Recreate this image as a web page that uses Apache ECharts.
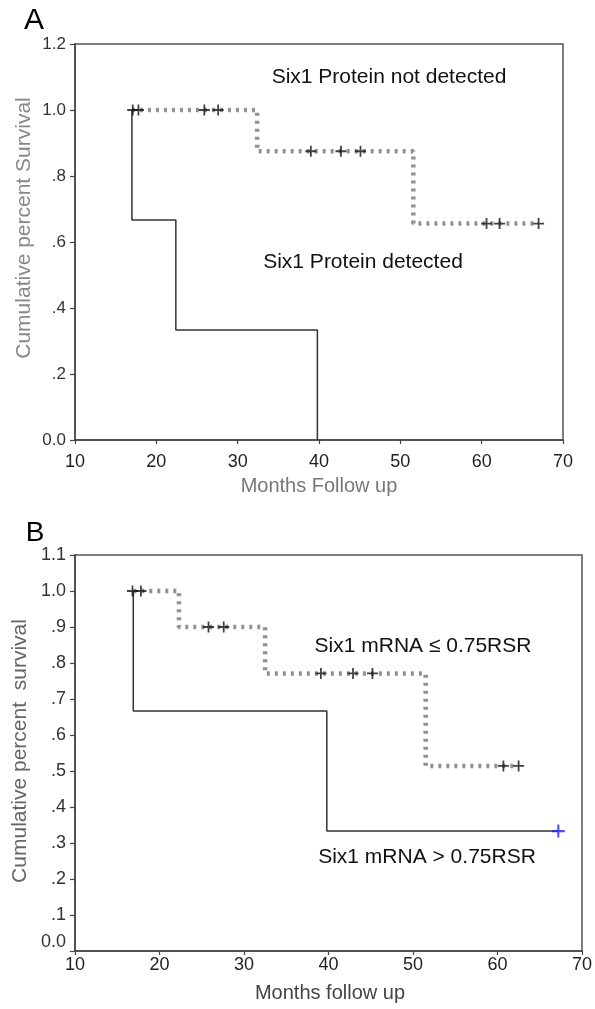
<!DOCTYPE html>
<html>
<head>
<meta charset="utf-8">
<script src="https://cdn.jsdelivr.net/npm/echarts@6/dist/echarts.min.js"></script>
<style>
html,body{margin:0;padding:0;background:#fff;}
#chart{width:595px;height:1009px;}
</style>
</head>
<body>
<div id="chart"></div>
<script>
// ---------- Panel A data ----------
const monthTicks = [10, 20, 30, 40, 50, 60, 70];
const yTickLabelsA = ['0.0', '.2', '.4', '.6', '.8', '1.0', '1.2'];
// Six1 protein not detected (dotted): step curve
const protNegTimes = [17.0, 32.4, 51.6, 67.0];
const protNegSurv  = [1.0, 0.875, 0.656, 0.656];
const protNegCensorTimes = [17.1, 17.8, 25.9, 27.6, 39.0, 42.7, 45.1, 60.6, 62.2, 67.0];
const protNegCensorSurv  = [1.0, 1.0, 1.0, 1.0, 0.875, 0.875, 0.875, 0.656, 0.656, 0.656];
// Six1 protein detected (solid)
const protPosTimes = [17.0, 17.0, 22.4, 39.8];
const protPosSurv  = [1.0, 0.667, 0.333, 0.0];

// ---------- Panel B data ----------
const yTickLabelsB = ['0.0', '.1', '.2', '.3', '.4', '.5', '.6', '.7', '.8', '.9', '1.0', '1.1'];
// Six1 mRNA <= 0.75RSR (dotted)
const mrnaLowTimes = [16.9, 22.3, 32.5, 51.5, 62.5];
const mrnaLowSurv  = [1.0, 0.9, 0.771, 0.514, 0.514];
const mrnaLowCensorTimes = [16.8, 17.8, 25.8, 27.6, 39.1, 42.9, 45.2, 60.7, 62.5];
const mrnaLowCensorSurv  = [1.0, 1.0, 0.9, 0.9, 0.771, 0.771, 0.771, 0.514, 0.514];
// Six1 mRNA > 0.75RSR (solid)
const mrnaHighTimes = [16.9, 16.9, 39.8, 67.2];
const mrnaHighSurv  = [1.0, 0.667, 0.333, 0.333];
const mrnaHighCensorTimes = [67.2];
const mrnaHighCensorSurv  = [0.333];

const zip = (a, b) => a.map((v, i) => [v, b[i]]);
const FONT = '"Liberation Sans", Arial, sans-serif';
const PLUS = 'path://M4.2,0H5.8V10H4.2Z M0,4.2H10V5.8H0Z';

const chart = echarts.init(document.getElementById('chart'), null, {renderer: 'canvas'});

function xAxisCfg(gridIndex, margin, color) {
  return {
    type: 'value', gridIndex: gridIndex, min: monthTicks[0], max: monthTicks[monthTicks.length - 1], interval: 10,
    axisLine: {show: true, onZero: false, lineStyle: {color: '#444', width: 1.5}},
    axisTick: {show: true, length: 4, lineStyle: {color: '#444', width: 1.2}},
    axisLabel: {show: true, margin: margin, color: color, fontFamily: FONT, fontSize: 18},
    splitLine: {show: false}
  };
}

const dottedStyle = {color: '#919191', width: 4.5, type: [3, 5], cap: 'butt'};
const solidStyle = {color: '#333', width: 1.5};

const option = {
  animation: false,
  backgroundColor: '#fff',
  grid: [
    {left: 75, top: 44, width: 488, height: 396, show: true, borderColor: '#555', borderWidth: 1.5, backgroundColor: 'transparent'},
    {left: 75, top: 555, width: 509, height: 396, show: true, borderColor: '#555', borderWidth: 1.5, backgroundColor: 'transparent'}
  ],
  xAxis: [xAxisCfg(0, 13, '#222'), xAxisCfg(1, 5, '#222')],
  yAxis: [
    {
      type: 'value', gridIndex: 0, min: 0, max: 1.2, interval: 0.2,
      axisLine: {show: true, lineStyle: {color: '#444', width: 1.5}},
      axisTick: {show: true, length: 5, lineStyle: {color: '#444', width: 1.2}},
      axisLabel: {margin: 9, color: '#333', fontFamily: FONT, fontSize: 17,
        formatter: v => yTickLabelsA[Math.round(v / 0.2)]},
      splitLine: {show: false}
    },
    {
      type: 'value', gridIndex: 1, min: 0, max: 1.1, interval: 0.1,
      axisLine: {show: true, lineStyle: {color: '#444', width: 1.5}},
      axisTick: {show: true, length: 5, lineStyle: {color: '#444', width: 1.2}},
      axisLabel: {margin: 9, color: '#333', fontFamily: FONT, fontSize: 18,
        formatter: v => {
          const i = Math.round(v / 0.1);
          return i === 0 ? '{z|' + yTickLabelsB[i] + '}' : yTickLabelsB[i];
        },
        rich: {z: {fontFamily: FONT, fontSize: 18, color: '#333', padding: [0, 0, 17, 0]}}},
      splitLine: {show: false}
    }
  ],
  series: [
    // Panel A
    {type: 'line', xAxisIndex: 0, yAxisIndex: 0, data: zip(protNegTimes, protNegSurv), step: 'end',
      symbol: 'none', lineStyle: dottedStyle, z: 2},
    {type: 'line', xAxisIndex: 0, yAxisIndex: 0, data: zip(protPosTimes, protPosSurv), step: 'end',
      symbol: 'none', lineStyle: solidStyle, z: 3},
    {type: 'scatter', xAxisIndex: 0, yAxisIndex: 0, data: zip(protNegCensorTimes, protNegCensorSurv),
      symbol: PLUS, symbolSize: 11, itemStyle: {color: '#111'}, z: 4},
    // Panel B
    {type: 'line', xAxisIndex: 1, yAxisIndex: 1, data: zip(mrnaLowTimes, mrnaLowSurv), step: 'end',
      symbol: 'none', lineStyle: dottedStyle, z: 2},
    {type: 'line', xAxisIndex: 1, yAxisIndex: 1, data: zip(mrnaHighTimes, mrnaHighSurv), step: 'end',
      symbol: 'none', lineStyle: solidStyle, z: 3},
    {type: 'scatter', xAxisIndex: 1, yAxisIndex: 1, data: zip(mrnaLowCensorTimes, mrnaLowCensorSurv),
      symbol: PLUS, symbolSize: 11, itemStyle: {color: '#111'}, z: 4},
    {type: 'scatter', xAxisIndex: 1, yAxisIndex: 1, data: zip(mrnaHighCensorTimes, mrnaHighCensorSurv),
      symbol: PLUS, symbolSize: 13, itemStyle: {color: '#2222ee'}, z: 4}
  ],
  graphic: [
    {type: 'text', x: 34, y: 21, style: {text: 'A', font: '30px ' + FONT, fill: '#000', textAlign: 'center', textVerticalAlign: 'middle'}},
    {type: 'text', x: 35, y: 533, style: {text: 'B', font: '28px ' + FONT, fill: '#000', textAlign: 'center', textVerticalAlign: 'middle'}},
    {type: 'text', x: 389, y: 77, style: {text: 'Six1 Protein not detected', font: '21px ' + FONT, fill: '#111', textAlign: 'center', textVerticalAlign: 'middle'}},
    {type: 'text', x: 363, y: 262, style: {text: 'Six1 Protein detected', font: '21px ' + FONT, fill: '#111', textAlign: 'center', textVerticalAlign: 'middle'}},
    {type: 'text', x: 423, y: 646, style: {text: 'Six1 mRNA \u2264 0.75RSR', font: '21px ' + FONT, fill: '#111', textAlign: 'center', textVerticalAlign: 'middle'}},
    {type: 'text', x: 427, y: 857, style: {text: 'Six1 mRNA > 0.75RSR', font: '21px ' + FONT, fill: '#111', textAlign: 'center', textVerticalAlign: 'middle'}},
    {type: 'text', x: 24, y: 228, rotation: Math.PI / 2, style: {text: 'Cumulative percent Survival', font: '21px ' + FONT, fill: '#888', textAlign: 'center', textVerticalAlign: 'middle'}},
    {type: 'text', x: 20, y: 751, rotation: Math.PI / 2, style: {text: 'Cumulative percent  survival', font: '21px ' + FONT, fill: '#666', textAlign: 'center', textVerticalAlign: 'middle'}},
    {type: 'text', x: 319, y: 486, style: {text: 'Months Follow up', font: '20px ' + FONT, fill: '#777', textAlign: 'center', textVerticalAlign: 'middle'}},
    {type: 'text', x: 330, y: 993, style: {text: 'Months follow up', font: '20px ' + FONT, fill: '#444', textAlign: 'center', textVerticalAlign: 'middle'}}
  ]
};
chart.setOption(option);
</script>
</body>
</html>
